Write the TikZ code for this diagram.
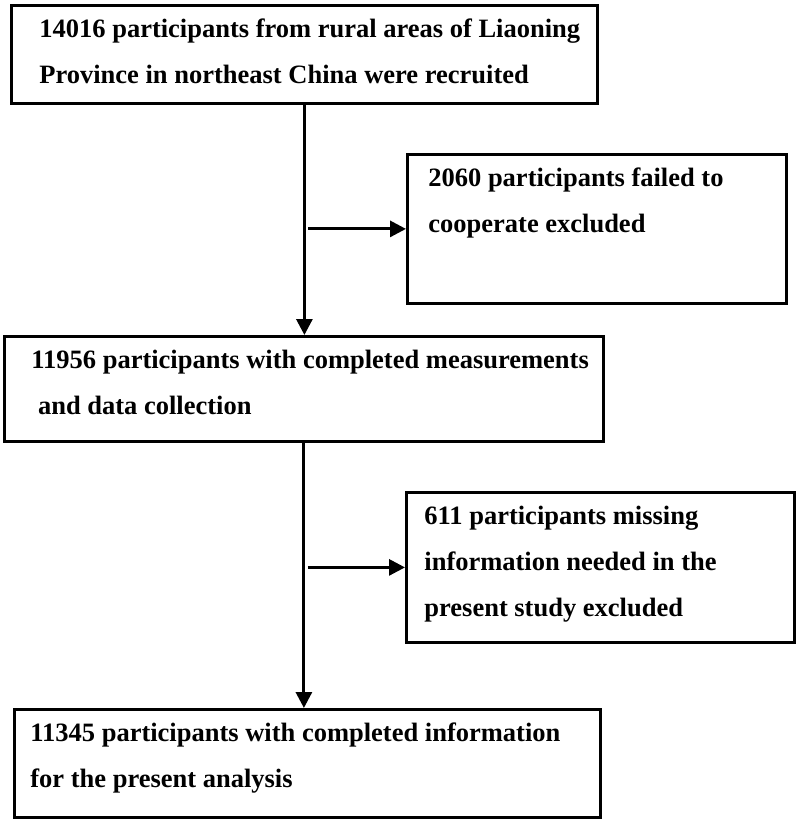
\documentclass[tikz,border=0pt]{standalone}
\usepackage{fontspec}
\setmainfont{Liberation Serif}
\usepackage{tikz}
\usetikzlibrary{arrows.meta}
\usetikzlibrary{positioning,calc}

\newcommand{\stagetext}[4]{\parbox[c][#1][t]{#2}{\raggedright\leftskip=#3\strut #4}}

\tikzset{
	stage/.style={draw,line width=2.8pt,anchor=north west,inner sep=0pt,font=\fontsize{26.5}{46}\selectfont\bfseries},
	flow/.style={line width=3pt,-{Triangle[length=16pt,width=16pt]}}
}

\begin{document}
\begin{tikzpicture}[x=1pt,y=-1pt]
	\useasboundingbox (0,0) rectangle (800,821);
	\node[stage] (recruit) at (10,4) {\stagetext{98pt}{586pt}{28pt}{14016 participants from rural areas of Liaoning\\Province in northeast China were recruited}};
	\node[stage] (failed) at (406,153) {\stagetext{149pt}{379pt}{21pt}{2060 participants failed to\\cooperate excluded}};
	\node[stage] (measured) at (3,335) {\stagetext{105pt}{599pt}{27pt}{11956 participants with completed measurements\\\hspace*{.25em}and data collection}};
	\node[stage] (missing) at (405,491) {\stagetext{150pt}{388pt}{18pt}{611 participants missing\\information needed in the\\present study excluded}};
	\node[stage] (analysis) at (13,708) {\stagetext{108pt}{586pt}{16pt}{11345 participants with completed information\\for the present analysis}};
	\draw[flow] (recruit.south) -- (recruit.south |- measured.north);
	\draw[flow] ([xshift=4pt]recruit.south |- failed.west) -- (failed.west);
	\draw[flow] (measured.south) -- (measured.south |- analysis.north);
	\draw[flow] ([xshift=4pt]measured.south |- missing.west) -- (missing.west);
\end{tikzpicture}
\end{document}
